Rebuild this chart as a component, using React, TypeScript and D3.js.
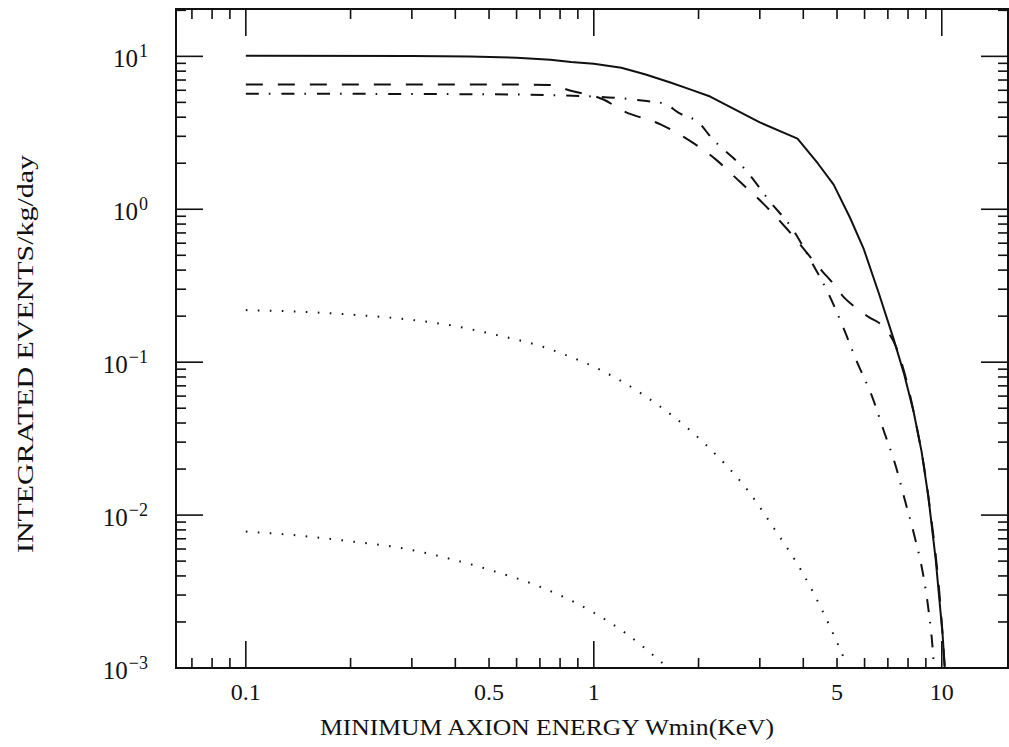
import React, { useEffect, useRef } from "react";
import * as d3 from "d3";

// solid curve
const solidE = [0.1, 0.3, 0.44, 0.6, 0.75, 0.86, 1.0, 1.2, 1.41, 1.66, 1.9, 2.16, 3.0, 3.85, 4.4, 4.89, 5.45, 5.97, 6.6, 7.27, 7.8, 8.3, 8.75, 9.15, 9.6, 10.05, 10.2];
const solidV = [10.1, 10.05, 9.96, 9.8, 9.5, 9.2, 8.95, 8.43, 7.6, 6.74, 6.06, 5.46, 3.7, 2.9, 2.0, 1.45, 0.88, 0.548, 0.28, 0.142, 0.083, 0.0474, 0.026, 0.0132, 0.0052, 0.00168, 0.001];

// dashed curve (joins the solid one near 7.5 keV)
const dashE = [0.1, 0.5, 0.74, 0.865, 1.07, 1.21, 1.56, 1.9, 2.24, 2.64, 3.08, 3.56, 4.55, 4.89, 5.22, 5.62, 6.17, 6.77, 7.4, 8.3, 9.15, 10.05, 10.2];
const dashV = [6.55, 6.55, 6.5, 5.93, 5.2, 4.42, 3.58, 2.78, 2.12, 1.5, 1.08, 0.76, 0.39, 0.324, 0.267, 0.23, 0.197, 0.172, 0.125, 0.0474, 0.0132, 0.00168, 0.001];

// dash-dot curve
const dashDotE = [0.1, 0.5, 1.0, 1.42, 1.6, 1.75, 2.03, 2.14, 2.77, 3.2, 3.73, 4.23, 4.73, 5.22, 5.71, 6.3, 6.8, 7.37, 7.85, 8.36, 8.82, 9.16, 9.4, 9.5];
const dashDotV = [5.7, 5.65, 5.46, 5.1, 4.9, 4.28, 3.58, 3.08, 1.74, 1.13, 0.74, 0.45, 0.279, 0.167, 0.1, 0.06, 0.036, 0.021, 0.0123, 0.0072, 0.0042, 0.0024, 0.0014, 0.001];

// upper dotted curve
const dotHiE = [0.1, 0.149, 0.204, 0.281, 0.383, 0.523, 0.714, 0.825, 1.03, 1.36, 2.11, 2.77, 3.33, 3.98, 4.61, 5.27];
const dotHiV = [0.219, 0.213, 0.204, 0.192, 0.175, 0.151, 0.126, 0.112, 0.0905, 0.063, 0.0285, 0.0145, 0.0079, 0.0042, 0.0022, 0.00112];

// lower dotted curve
const dotLoE = [0.1, 0.137, 0.204, 0.279, 0.383, 0.516, 0.7, 1.0, 1.23, 1.58];
const dotLoV = [0.0078, 0.0074, 0.0067, 0.0061, 0.0052, 0.0043, 0.0034, 0.0023, 0.0017, 0.00107];

const xTickLabels = ["0.1", "0.5", "1", "5", "10"];
const yTickExps = ["1", "0", "\u22121", "\u22122", "\u22123"];

const xTitle = "MINIMUM AXION ENERGY Wmin(KeV)";
const yTitle = "INTEGRATED EVENTS/kg/day";

const W = 1009, H = 747;
const FONT = "'Liberation Serif', 'Times New Roman', serif";

const App = () => {
  const svgRef = useRef(null);

  useEffect(() => {
    const svg = d3.select(svgRef.current);
    svg.selectAll("*").remove();

    const x0 = 176, x1 = 1008, y0 = 9, y1 = 668;
    const xScale = d3.scaleLog().domain([0.063, 15.5]).range([x0, x1]);
    const yScale = d3.scaleLog().domain([1e-3, 20.4]).range([y1, y0]);

    svg.append("rect").attr("width", W).attr("height", H).attr("fill", "#fff");

    svg.append("clipPath").attr("id", "plot-clip")
      .append("rect").attr("x", x0).attr("y", y0).attr("width", x1 - x0).attr("height", y1 - y0);

    // curves
    const smooth = d3.line()
      .x(d => xScale(d[0]))
      .y(d => yScale(d[1]))
      .curve(d3.curveMonotoneX);
    const straight = d3.line()
      .x(d => xScale(d[0]))
      .y(d => yScale(d[1]));

    const series = [
      { e: solidE, v: solidV, dash: null, line: straight },
      { e: dashE, v: dashV, dash: "17 15", line: smooth },
      { e: dashDotE, v: dashDotV, dash: "13 10 1.6 11", line: smooth },
      { e: dotHiE, v: dotHiV, dash: "1.6 10.4", line: smooth },
      { e: dotLoE, v: dotLoV, dash: "1.6 10.4", line: smooth },
    ];

    const g = svg.append("g").attr("clip-path", "url(#plot-clip)");
    series.forEach(s => {
      g.append("path")
        .datum(s.e.map((e, i) => [e, s.v[i]]))
        .attr("d", s.line)
        .attr("fill", "none")
        .attr("stroke", "#111")
        .attr("stroke-width", 2)
        .attr("stroke-linejoin", "round")
        .attr("stroke-dasharray", s.dash);
    });

    // ticks on all four sides
    const isMajor = v => Math.abs(Math.log10(v) - Math.round(Math.log10(v))) < 1e-6;
    const majorLen = 27, minorLen = 10;
    const ticks = svg.append("g").attr("stroke", "#111").attr("stroke-width", 1.6);

    xScale.ticks().forEach(t => {
      const x = xScale(t);
      const len = isMajor(t) ? majorLen : minorLen;
      ticks.append("line").attr("x1", x).attr("x2", x).attr("y1", y1).attr("y2", y1 - len);
      ticks.append("line").attr("x1", x).attr("x2", x).attr("y1", y0).attr("y2", y0 + len);
    });
    yScale.ticks().forEach(t => {
      const y = yScale(t);
      const len = isMajor(t) ? majorLen : minorLen;
      ticks.append("line").attr("x1", x0).attr("x2", x0 + len).attr("y1", y).attr("y2", y);
      ticks.append("line").attr("x1", x1).attr("x2", x1 - len).attr("y1", y).attr("y2", y);
    });

    // frame
    svg.append("rect")
      .attr("x", x0).attr("y", y0).attr("width", x1 - x0).attr("height", y1 - y0)
      .attr("fill", "none").attr("stroke", "#111").attr("stroke-width", 2);

    // x tick labels
    svg.append("g").selectAll("text")
      .data(xTickLabels)
      .join("text")
      .attr("x", d => xScale(+d))
      .attr("y", 700)
      .attr("text-anchor", "middle")
      .attr("font-family", FONT)
      .attr("font-size", 24)
      .attr("fill", "#111")
      .text(d => d);

    // y tick labels 10^n
    const yl = svg.append("g").selectAll("text")
      .data(yTickExps)
      .join("text")
      .attr("x", 148)
      .attr("y", d => yScale(Math.pow(10, +d.replace("\u2212", "-"))) + 11)
      .attr("text-anchor", "end")
      .attr("font-family", FONT)
      .attr("font-size", 25)
      .attr("fill", "#111");
    yl.append("tspan").text("10");
    yl.append("tspan").attr("dy", -10).attr("font-size", 18).attr("dx", 1).text(d => d);

    // axis titles
    svg.append("text")
      .attr("x", 320).attr("y", 735)
      .attr("font-family", FONT).attr("font-size", 23).attr("fill", "#111")
      .attr("textLength", 454).attr("lengthAdjust", "spacingAndGlyphs")
      .text(xTitle);

    svg.append("text")
      .attr("transform", "translate(33,553) rotate(-90)")
      .attr("x", 0).attr("y", 0)
      .attr("font-family", FONT).attr("font-size", 23).attr("fill", "#111")
      .attr("textLength", 398).attr("lengthAdjust", "spacingAndGlyphs")
      .text(yTitle);
  }, []);

  return (
    <svg
      ref={svgRef}
      width={W}
      height={H}
      style={{ position: "absolute", left: 0, top: 0, display: "block" }}
    />
  );
};

export default App;
